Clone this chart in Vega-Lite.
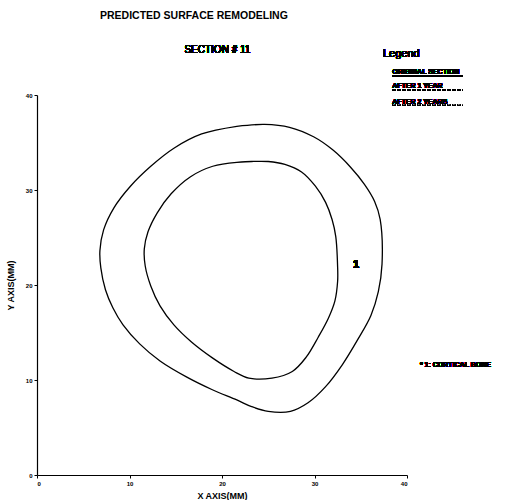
{
  "$schema": "https://vega.github.io/schema/vega-lite/v6.json",
  "width": 370,
  "height": 380,
  "autosize": {"type": "none"},
  "padding": {"left": 37, "top": 95, "right": 107, "bottom": 25},
  "background": "white",
  "title": {
    "text": "PREDICTED SURFACE REMODELING",
    "anchor": "start",
    "frame": "group",
    "dx": 63,
    "offset": 24,
    "font": "Liberation Sans",
    "fontSize": 10.5,
    "fontWeight": "bold",
    "color": "black"
  },
  "config": {
    "view": {"stroke": null},
    "axis": {
      "grid": false,
      "domainColor": "black",
      "domainWidth": 1.2,
      "tickColor": "black",
      "tickSize": 3,
      "labelColor": "black",
      "labelFont": "Liberation Sans",
      "labelFontWeight": "bold",
      "labelFontSize": 6,
      "titleColor": "black",
      "titleFont": "Liberation Sans",
      "titleFontWeight": "bold",
      "titleFontSize": 9
    },
    "text": {"font": "Liberation Sans", "color": "black"}
  },
  "data": {
    "values": [
      {"boundary": "outer", "i": 1, "x": 21.6, "y": 36.7},
      {"boundary": "outer", "i": 2, "x": 24.6, "y": 36.9},
      {"boundary": "outer", "i": 3, "x": 27.3, "y": 36.6},
      {"boundary": "outer", "i": 4, "x": 29.9, "y": 35.6},
      {"boundary": "outer", "i": 5, "x": 32.0, "y": 34.2},
      {"boundary": "outer", "i": 6, "x": 33.9, "y": 32.4},
      {"boundary": "outer", "i": 7, "x": 35.4, "y": 30.6},
      {"boundary": "outer", "i": 8, "x": 36.5, "y": 28.8},
      {"boundary": "outer", "i": 9, "x": 37.1, "y": 26.9},
      {"boundary": "outer", "i": 10, "x": 37.3, "y": 22.2},
      {"boundary": "outer", "i": 11, "x": 36.9, "y": 19.3},
      {"boundary": "outer", "i": 12, "x": 36.1, "y": 16.8},
      {"boundary": "outer", "i": 13, "x": 34.7, "y": 14.3},
      {"boundary": "outer", "i": 14, "x": 33.0, "y": 11.6},
      {"boundary": "outer", "i": 15, "x": 31.2, "y": 9.3},
      {"boundary": "outer", "i": 16, "x": 29.3, "y": 7.6},
      {"boundary": "outer", "i": 17, "x": 27.4, "y": 6.7},
      {"boundary": "outer", "i": 18, "x": 25.0, "y": 6.7},
      {"boundary": "outer", "i": 19, "x": 23.2, "y": 7.2},
      {"boundary": "outer", "i": 20, "x": 21.6, "y": 7.9},
      {"boundary": "outer", "i": 21, "x": 18.9, "y": 9.0},
      {"boundary": "outer", "i": 22, "x": 16.2, "y": 10.3},
      {"boundary": "outer", "i": 23, "x": 13.3, "y": 12.0},
      {"boundary": "outer", "i": 24, "x": 11.1, "y": 13.8},
      {"boundary": "outer", "i": 25, "x": 9.3, "y": 15.8},
      {"boundary": "outer", "i": 26, "x": 8.2, "y": 17.6},
      {"boundary": "outer", "i": 27, "x": 7.4, "y": 19.5},
      {"boundary": "outer", "i": 28, "x": 6.9, "y": 21.8},
      {"boundary": "outer", "i": 29, "x": 6.8, "y": 23.6},
      {"boundary": "outer", "i": 30, "x": 7.2, "y": 25.8},
      {"boundary": "outer", "i": 31, "x": 8.3, "y": 28.1},
      {"boundary": "outer", "i": 32, "x": 10.1, "y": 30.4},
      {"boundary": "outer", "i": 33, "x": 12.3, "y": 32.5},
      {"boundary": "outer", "i": 34, "x": 14.8, "y": 34.4},
      {"boundary": "outer", "i": 35, "x": 17.8, "y": 35.9},
      {"boundary": "outer", "i": 36, "x": 21.6, "y": 36.7},
      {"boundary": "inner", "i": 1, "x": 21.6, "y": 32.9},
      {"boundary": "inner", "i": 2, "x": 23.2, "y": 33.0},
      {"boundary": "inner", "i": 3, "x": 25.0, "y": 33.0},
      {"boundary": "inner", "i": 4, "x": 26.8, "y": 32.7},
      {"boundary": "inner", "i": 5, "x": 28.6, "y": 31.9},
      {"boundary": "inner", "i": 6, "x": 30.1, "y": 30.4},
      {"boundary": "inner", "i": 7, "x": 31.2, "y": 28.7},
      {"boundary": "inner", "i": 8, "x": 31.9, "y": 26.9},
      {"boundary": "inner", "i": 9, "x": 32.3, "y": 25.1},
      {"boundary": "inner", "i": 10, "x": 32.5, "y": 21.9},
      {"boundary": "inner", "i": 11, "x": 32.5, "y": 20.4},
      {"boundary": "inner", "i": 12, "x": 32.2, "y": 18.3},
      {"boundary": "inner", "i": 13, "x": 31.5, "y": 16.5},
      {"boundary": "inner", "i": 14, "x": 30.4, "y": 14.5},
      {"boundary": "inner", "i": 15, "x": 29.1, "y": 12.4},
      {"boundary": "inner", "i": 16, "x": 27.6, "y": 10.9},
      {"boundary": "inner", "i": 17, "x": 25.4, "y": 10.2},
      {"boundary": "inner", "i": 18, "x": 22.9, "y": 10.2},
      {"boundary": "inner", "i": 19, "x": 21.3, "y": 10.9},
      {"boundary": "inner", "i": 20, "x": 19.0, "y": 12.3},
      {"boundary": "inner", "i": 21, "x": 16.7, "y": 14.0},
      {"boundary": "inner", "i": 22, "x": 14.8, "y": 15.8},
      {"boundary": "inner", "i": 23, "x": 13.3, "y": 17.8},
      {"boundary": "inner", "i": 24, "x": 12.3, "y": 19.9},
      {"boundary": "inner", "i": 25, "x": 11.7, "y": 22.0},
      {"boundary": "inner", "i": 26, "x": 11.6, "y": 23.8},
      {"boundary": "inner", "i": 27, "x": 12.0, "y": 25.6},
      {"boundary": "inner", "i": 28, "x": 13.0, "y": 27.6},
      {"boundary": "inner", "i": 29, "x": 14.5, "y": 29.6},
      {"boundary": "inner", "i": 30, "x": 16.6, "y": 31.4},
      {"boundary": "inner", "i": 31, "x": 19.0, "y": 32.5},
      {"boundary": "inner", "i": 32, "x": 21.6, "y": 32.9}
    ]
  },
  "layer": [
    {
      "mark": {"type": "line", "color": "black", "strokeWidth": 1.3, "interpolate": "catmull-rom", "clip": false},
      "encoding": {
        "x": {
          "field": "x", "type": "quantitative",
          "scale": {"domain": [0, 40], "nice": false},
          "axis": {"values": [0, 10, 20, 30, 40], "title": "X AXIS(MM)", "titlePadding": 5, "labelPadding": 2}
        },
        "y": {
          "field": "y", "type": "quantitative",
          "scale": {"domain": [0, 40], "nice": false},
          "axis": {"values": [0, 10, 20, 30, 40], "title": "Y AXIS(MM)", "titlePadding": 10, "labelPadding": 2}
        },
        "detail": {"field": "boundary"},
        "order": {"field": "i", "type": "quantitative"}
      }
    },
    {
      "mark": {"type": "text", "fontSize": 10, "align": "center", "baseline": "middle", "clip": false},
      "encoding": {"x": {"datum": 19.5}, "y": {"datum": 44.7}, "text": {"value": "SECTION # 11"}}
    },
    {
      "mark": {"type": "text", "fontSize": 11, "align": "left", "baseline": "middle", "clip": false},
      "encoding": {"x": {"datum": 37.4}, "y": {"datum": 44.3}, "text": {"value": "Legend"}}
    },
    {
      "mark": {"type": "text", "fontSize": 7, "fontWeight": "bold", "align": "left", "baseline": "middle", "clip": false},
      "encoding": {"x": {"datum": 38.4}, "y": {"datum": 42.4}, "text": {"value": "ORIGINAL SECTION"}}
    },
    {
      "mark": {"type": "text", "fontSize": 7, "fontWeight": "bold", "align": "left", "baseline": "middle", "clip": false},
      "encoding": {"x": {"datum": 38.4}, "y": {"datum": 40.9}, "text": {"value": "AFTER 1 YEAR"}}
    },
    {
      "mark": {"type": "text", "fontSize": 7, "fontWeight": "bold", "align": "left", "baseline": "middle", "clip": false},
      "encoding": {"x": {"datum": 38.4}, "y": {"datum": 39.3}, "text": {"value": "AFTER 2 YEARS"}}
    },
    {
      "mark": {"type": "rule", "color": "black", "strokeWidth": 1, "clip": false},
      "encoding": {"x": {"datum": 38.4}, "x2": {"datum": 46.0}, "y": {"datum": 42.0}}
    },
    {
      "mark": {"type": "rule", "color": "black", "strokeWidth": 1, "strokeDash": [3, 2], "clip": false},
      "encoding": {"x": {"datum": 38.4}, "x2": {"datum": 46.0}, "y": {"datum": 40.5}}
    },
    {
      "mark": {"type": "rule", "color": "black", "strokeWidth": 1, "strokeDash": [1, 1.5], "clip": false},
      "encoding": {"x": {"datum": 38.4}, "x2": {"datum": 46.0}, "y": {"datum": 38.9}}
    },
    {
      "mark": {"type": "text", "fontSize": 7, "fontWeight": "bold", "align": "left", "baseline": "middle", "clip": false},
      "encoding": {"x": {"datum": 41.4}, "y": {"datum": 11.6}, "text": {"value": "* 1: CORTICAL BONE"}}
    },
    {
      "mark": {"type": "text", "fontSize": 11, "fontWeight": "bold", "align": "center", "baseline": "middle", "clip": false},
      "encoding": {"x": {"datum": 34.5}, "y": {"datum": 22.1}, "text": {"value": "1"}}
    }
  ]
}
